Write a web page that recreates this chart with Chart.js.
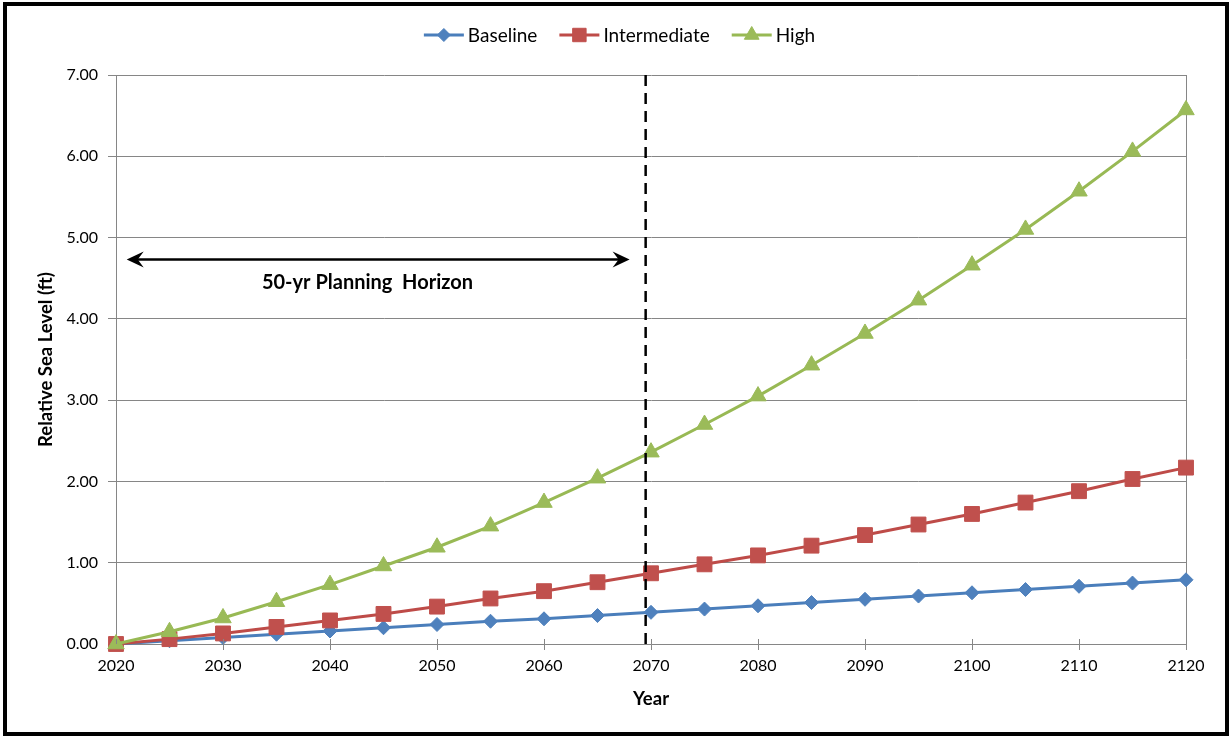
<!DOCTYPE html>
<html>
<head>
<meta charset="utf-8">
<script src="https://cdn.jsdelivr.net/npm/chart.js@4.4.1/dist/chart.umd.min.js"></script>
<style>
  html, body { margin: 0; padding: 0; background: #fff; }
  #wrap { width: 1231px; height: 737px; position: relative; }
</style>
</head>
<body>
<div id="wrap"><canvas id="c"></canvas></div>
<script>
// ---- data ----
const years = [2020, 2025, 2030, 2035, 2040, 2045, 2050, 2055, 2060, 2065, 2070,
               2075, 2080, 2085, 2090, 2095, 2100, 2105, 2110, 2115, 2120];
const baseline = [0.00, 0.04, 0.08, 0.12, 0.16, 0.20, 0.24, 0.28, 0.31, 0.35, 0.39,
                  0.43, 0.47, 0.51, 0.55, 0.59, 0.63, 0.67, 0.71, 0.75, 0.79];
const intermediate = [0.00, 0.06, 0.13, 0.21, 0.29, 0.37, 0.46, 0.56, 0.65, 0.76, 0.87,
                      0.98, 1.09, 1.21, 1.34, 1.47, 1.60, 1.74, 1.88, 2.03, 2.17];
const high = [0.00, 0.15, 0.32, 0.52, 0.73, 0.96, 1.19, 1.45, 1.74, 2.04, 2.36,
              2.70, 3.05, 3.43, 3.82, 4.23, 4.66, 5.10, 5.57, 6.06, 6.57];
const seriesNames = ['Baseline', 'Intermediate', 'High'];
const yTickLabels = ['0.00', '1.00', '2.00', '3.00', '4.00', '5.00', '6.00', '7.00'];
const horizonYear = 2069.5;
const arrowFrom = 2021, arrowTo = 2068, arrowY = 4.73;
const horizonLabel = '50-yr Planning  Horizon';
const horizonLabelPos = { x: 2043.5, y: 4.45 };

const FONT = 'Lato, "Open Sans", sans-serif';
const GRAY = '#868686';

function pts(arr) { return years.map((y, i) => ({ x: y, y: arr[i] })); }

const styles = [
  { line: '#4A7EBB', fill: '#4F81BD', point: 'rectRot', r: 7, lr: 6.5 },
  { line: '#BE4B48', fill: '#C0504D', point: 'rect', r: 10.5, lr: 9.5 },
  { line: '#98B954', fill: '#9BBB59', point: 'triangle', r: 9.5, lr: 8.5 }
];
const seriesData = [baseline, intermediate, high];

const datasets = seriesData.map((d, i) => ({
  label: seriesNames[i],
  data: pts(d),
  borderColor: styles[i].line,
  backgroundColor: styles[i].fill,
  pointBackgroundColor: styles[i].fill,
  pointBorderColor: styles[i].fill,
  pointBorderWidth: 1,
  pointStyle: styles[i].point,
  pointRadius: styles[i].r,
  borderWidth: 3,
  tension: 0,
  clip: false,
  order: 3 - i
}));

const decor = {
  id: 'decor',
  beforeDraw(chart) {
    const ctx = chart.ctx;
    ctx.save();
    ctx.fillStyle = '#fff';
    ctx.fillRect(0, 0, chart.width, chart.height);
    ctx.restore();
  },
  afterDatasetsDraw(chart) {
    const ctx = chart.ctx;
    const xs = chart.scales.x, ys = chart.scales.y;
    const ca = chart.chartArea;
    ctx.save();
    // inward x tick marks
    ctx.strokeStyle = GRAY;
    ctx.lineWidth = 1;
    for (let v = 2020; v <= 2120; v += 10) {
      const px = Math.round(xs.getPixelForValue(v)) + 0.5;
      ctx.beginPath();
      ctx.moveTo(px, ca.bottom - 5);
      ctx.lineTo(px, ca.bottom);
      ctx.stroke();
    }
    // dashed planning horizon line
    const hx = xs.getPixelForValue(horizonYear);
    ctx.strokeStyle = '#000';
    ctx.lineWidth = 2.5;
    ctx.setLineDash([11, 7]);
    ctx.beginPath();
    ctx.moveTo(hx, ca.top);
    ctx.lineTo(hx, ca.bottom);
    ctx.stroke();
    ctx.setLineDash([]);
    // arrow
    const ax1 = xs.getPixelForValue(arrowFrom), ax2 = xs.getPixelForValue(arrowTo);
    const ay = ys.getPixelForValue(arrowY);
    ctx.lineWidth = 2.5;
    ctx.beginPath();
    ctx.moveTo(ax1 + 6, ay);
    ctx.lineTo(ax2 - 6, ay);
    ctx.stroke();
    ctx.fillStyle = '#000';
    function head(x, dir) {
      ctx.beginPath();
      ctx.moveTo(x, ay);
      ctx.lineTo(x + dir * 17, ay - 8);
      ctx.lineTo(x + dir * 11, ay);
      ctx.lineTo(x + dir * 17, ay + 8);
      ctx.closePath();
      ctx.fill();
    }
    head(ax1, 1);
    head(ax2, -1);
    // label
    ctx.font = 'bold 20px ' + FONT;
    ctx.textAlign = 'center';
    ctx.textBaseline = 'middle';
    ctx.fillText(horizonLabel, xs.getPixelForValue(horizonLabelPos.x), ys.getPixelForValue(horizonLabelPos.y));
    ctx.restore();
  },
  afterDraw(chart) {
    const ctx = chart.ctx;
    ctx.save();
    // legend
    ctx.font = '19px ' + FONT;
    ctx.textBaseline = 'middle';
    ctx.textAlign = 'left';
    const lineLen = 40, gap = 4, itemGap = 22;
    const widths = seriesNames.map(n => ctx.measureText(n).width);
    let total = 0;
    widths.forEach((w, i) => { total += lineLen + gap + w + (i < widths.length - 1 ? itemGap : 0); });
    let x = 619.5 - total / 2;
    const ly = 35;
    seriesNames.forEach((n, i) => {
      const st = styles[i];
      ctx.strokeStyle = st.line;
      ctx.lineWidth = 3;
      ctx.beginPath();
      ctx.moveTo(x, ly);
      ctx.lineTo(x + lineLen, ly);
      ctx.stroke();
      ctx.fillStyle = st.fill;
      ctx.strokeStyle = st.fill;
      ctx.lineWidth = 1;
      Chart.helpers.drawPoint(ctx, { pointStyle: st.point, radius: st.lr, rotation: 0, borderWidth: 1 }, x + lineLen / 2, ly);
      ctx.fillStyle = '#000';
      ctx.fillText(n, x + lineLen + gap, ly + 1);
      x += lineLen + gap + widths[i] + itemGap;
    });
    // outer border
    ctx.strokeStyle = '#000';
    ctx.lineWidth = 4;
    ctx.strokeRect(5, 4, 1222, 730);
    ctx.restore();
  }
};

new Chart(document.getElementById('c'), {
  type: 'line',
  data: { datasets },
  options: {
    responsive: true,
    maintainAspectRatio: false,
    animation: false,
    layout: { padding: { left: 0, right: 45, top: 75, bottom: 0 } },
    plugins: { legend: { display: false }, tooltip: { enabled: false } },
    scales: {
      x: {
        type: 'linear',
        min: 2020, max: 2120,
        afterFit: s => { s.height = 93; },
        ticks: { stepSize: 10, padding: 6, color: '#000', font: { family: FONT, size: 16 }, callback: v => String(v), maxRotation: 0 },
        grid: {
          drawOnChartArea: true,
          color: c => (c.tick && c.tick.value === 2120) ? GRAY : 'rgba(0,0,0,0)',
          tickColor: GRAY, tickLength: 6, lineWidth: 1
        },
        border: { color: GRAY, width: 1 },
        title: { display: true, text: 'Year', color: '#000', font: { family: FONT, size: 18.5, weight: 'bold' }, padding: { top: 0, bottom: 27 } }
      },
      y: {
        min: 0, max: 7,
        afterFit: s => { s.width = 116; },
        afterBuildTicks: s => { s.ticks = yTickLabels.map(t => ({ value: parseFloat(t) })); },
        ticks: { padding: 10, color: '#000', font: { family: FONT, size: 16 }, callback: (v, i) => yTickLabels[i] },
        grid: { color: GRAY, tickColor: GRAY, tickLength: 8, lineWidth: 1 },
        border: { color: GRAY, width: 1 },
        title: { display: true, text: 'Relative Sea Level (ft)', color: '#000', font: { family: FONT, size: 18.5, weight: 'bold' }, padding: { top: 35, bottom: 0 } }
      }
    }
  },
  plugins: [decor]
});
</script>
</body>
</html>
